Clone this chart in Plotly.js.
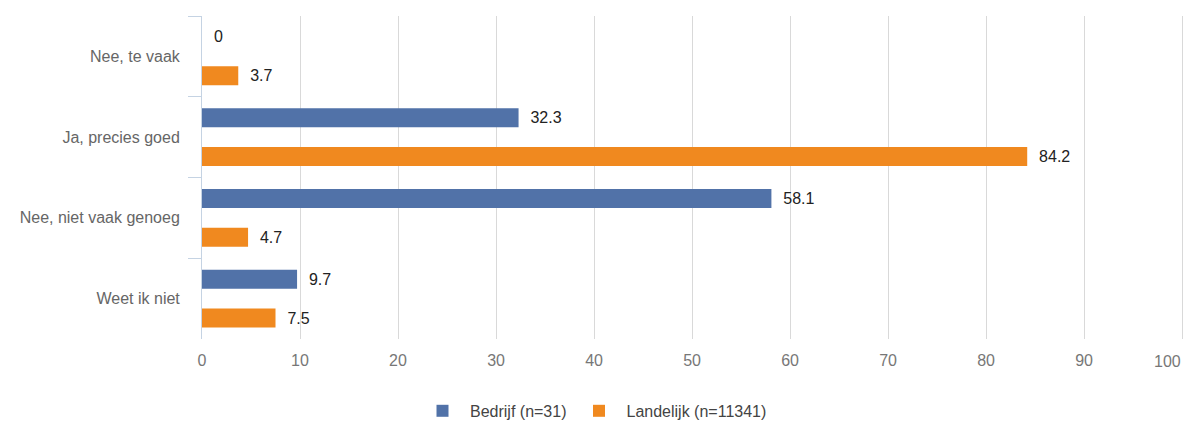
<!DOCTYPE html>
<html><head><meta charset="utf-8">
<script src="https://cdn.plot.ly/plotly-3.0.1.min.js"></script>
<style>html,body{margin:0;padding:0;background:#fff}</style>
</head><body><div id="chart" style="width:1187px;height:421px"></div>
<script>
var categories = ["Nee, te vaak", "Ja, precies goed", "Nee, niet vaak genoeg", "Weet ik niet"];
var bedrijf = [0, 32.3, 58.1, 9.7];
var landelijk = [3.7, 84.2, 4.7, 7.5];
var seriesNames = ["Bedrijf (n=31)", "Landelijk (n=11341)"];
var xTicks = [0, 10, 20, 30, 40, 50, 60, 70, 80, 90, 100];

var font = "Arial, 'Liberation Sans', sans-serif";
function tr(vals, name, color) {
  return {
    type: "bar", orientation: "h", y: categories, x: vals, name: name,
    marker: {color: color},
    text: vals.map(String), texttemplate: "  %{text}", textposition: "outside",
    textfont: {family: font, size: 16, color: "#222"},
    cliponaxis: false, hoverinfo: "x"
  };
}
var data = [tr(bedrijf, seriesNames[0], "#5172a8"), tr(landelijk, seriesNames[1], "#f0891f")];
// the last tick label is drawn right-aligned to its gridline so it stays inside the page, as in the reference
var lastTick = xTicks[xTicks.length - 1];
var tickText = xTicks.map(function (v, i) { return i === xTicks.length - 1 ? "" : String(v); });
var layout = {
  width: 1187, height: 421,
  margin: {l: 202, r: 2, t: 16, b: 82, autoexpand: false},
  paper_bgcolor: "#fff", plot_bgcolor: "#fff",
  barmode: "group", bargap: 0.04, bargroupgap: 0.51,
  font: {family: font, size: 16, color: "#666"},
  showlegend: true,
  legend: {orientation: "h", x: 0.5, xref: "container", xanchor: "center", y: 0.024, yref: "container", yanchor: "middle",
           font: {family: font, size: 16, color: "#444"}, traceorder: "normal", itemwidth: 45},
  xaxis: {range: [0, 100.3], tickvals: xTicks, ticktext: tickText,
          showgrid: true, gridcolor: "#d9d9d9", gridwidth: 1, zeroline: false,
          showline: false, ticks: "", fixedrange: true, ticklabelstandoff: 10, automargin: false,
          tickfont: {family: font, size: 16, color: "#777"}},
  yaxis: {autorange: "reversed", type: "category", showline: true, linecolor: "#c5d3e3", linewidth: 1,
          ticks: "outside", tickson: "boundaries", ticklen: 13, tickcolor: "#c5d3e3",
          showgrid: false, zeroline: false, ticklabelstandoff: 18, automargin: false,
          tickfont: {family: font, size: 16, color: "#666"}},
  annotations: [{x: lastTick, xref: "x", y: 0, yref: "paper", xanchor: "right", yanchor: "middle",
                 yshift: -22, xshift: 1, showarrow: false, text: String(lastTick),
                 font: {family: font, size: 16, color: "#777"}}]
};
Plotly.newPlot("chart", data, layout, {displayModeBar: false, staticPlot: true});
</script></body></html>
